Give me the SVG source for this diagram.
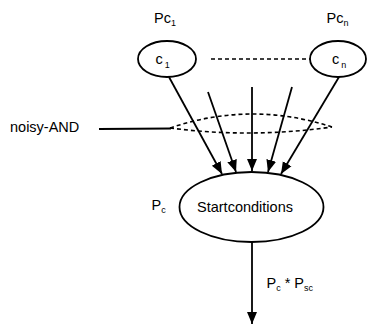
<svg xmlns="http://www.w3.org/2000/svg" width="367" height="324" viewBox="0 0 367 324">
<style>
.n{fill:#fff;stroke:#000;stroke-width:1.8}
.t{font-family:"Liberation Sans",Arial,sans-serif;font-size:14.5px;fill:#000}
.s{font-size:9px}
.e{stroke:#000;stroke-width:1.8;fill:none}
.d{stroke:#000;stroke-width:1.6;fill:none;stroke-dasharray:4 3}
</style>
<defs>
<marker id="ah" markerUnits="userSpaceOnUse" markerWidth="13" markerHeight="13" viewBox="0 0 13 13" refX="12" refY="6.5" orient="auto">
<path d="M0,1.5 L12,6.5 L0,11.5 Z" fill="#000"/>
</marker>
</defs>
<g id="connectors">
<line class="e" x1="169" y1="77" x2="222" y2="174" marker-end="url(#ah)"/>
<line class="e" x1="208" y1="92" x2="236" y2="172" marker-end="url(#ah)"/>
<line class="e" x1="252" y1="87" x2="252" y2="171" marker-end="url(#ah)"/>
<line class="e" x1="292" y1="87" x2="268" y2="172" marker-end="url(#ah)"/>
<line class="e" x1="339" y1="77" x2="281" y2="174" marker-end="url(#ah)"/>
<line class="e" x1="252" y1="242" x2="252" y2="324" marker-end="url(#ah)"/>
<line class="d" x1="211" y1="59" x2="310" y2="59" stroke-dasharray="3 2"/>
<line class="e" x1="99" y1="129" x2="171" y2="128.5"/>
</g>
<g id="noisy-and">
<path class="d" d="M170,128 Q251,100.5 332,127"/>
<path class="d" d="M170,128 Q251,138.5 332,127"/>
<text class="t" x="10" y="132">noisy-AND</text>
</g>
<g id="c1">
<ellipse class="n" cx="167" cy="59" rx="29" ry="18"/>
<text class="t" x="155.5" y="63.5">c<tspan class="s" dx="2" dy="4">1</tspan></text>
<text class="t" x="154" y="23">Pc<tspan class="s" dy="3">1</tspan></text>
</g>
<g id="cn">
<ellipse class="n" cx="338" cy="59" rx="28" ry="18"/>
<text class="t" x="332" y="63.5">c<tspan class="s" dx="2" dy="4">n</tspan></text>
<text class="t" x="326.5" y="23">Pc<tspan class="s" dy="3">n</tspan></text>
</g>
<g id="startconditions">
<ellipse class="n" cx="251.5" cy="207" rx="72" ry="35"/>
<text class="t" x="245" y="212" text-anchor="middle">Startconditions</text>
<text class="t" x="151.5" y="210">P<tspan class="s" dy="3">c</tspan></text>
</g>
<g id="output-label">
<text class="t" x="266.5" y="288">P<tspan class="s" dy="3">c</tspan><tspan dy="-3"> * P</tspan><tspan class="s" dy="3">sc</tspan></text>
</g>
</svg>
